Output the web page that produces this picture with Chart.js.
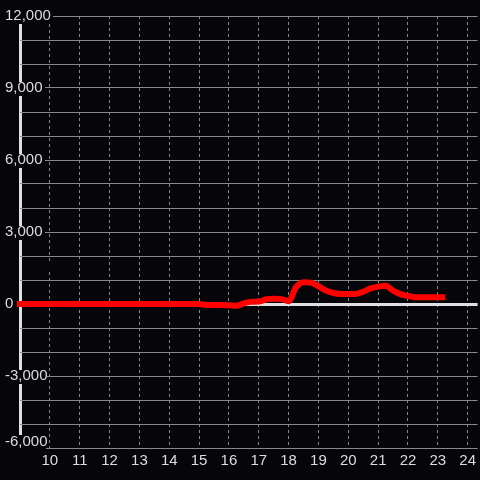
<!DOCTYPE html>
<html>
<head>
<meta charset="utf-8">
<script src="https://cdn.jsdelivr.net/npm/chart.js@4/dist/chart.umd.min.js"></script>
<style>
  html, body { margin: 0; padding: 0; background: #060509; }
  #wrap { width: 480px; height: 480px; }
</style>
</head>
<body>
<div id="wrap"><canvas id="c" width="480" height="480"></canvas></div>
<script>
// ---- data ----
const hours = [8.5, 9, 10, 11, 12, 13, 14, 15, 15.25, 15.5, 15.75, 16, 16.25, 16.5, 16.75, 17,
  17.25, 17.5, 17.75, 18, 18.25, 18.5, 18.75, 19, 19.25, 19.5, 19.75, 20, 20.25, 20.5, 20.75,
  21, 21.25, 21.5, 21.75, 22, 22.25, 22.5, 22.75, 23, 23.25];
const values = [0, 0, 0, 0, 0, 0, 0, 0, -40, -45, -45, -50, -75, 30, 95, 100,
  195, 215, 210, 115, 700, 910, 890, 740, 560, 460, 420, 415, 420, 510, 650,
  725, 760, 560, 410, 333, 285, 278, 278, 278, 278];
const xTickValues = [9, 10, 11, 12, 13, 14, 15, 16, 17, 18, 19, 20, 21, 22, 23, 24];
const yTickValues = [12000, 11000, 10000, 9000, 8000, 7000, 6000, 5000, 4000, 3000, 2000, 1000,
  0, -1000, -2000, -3000, -4000, -5000, -6000];
const yLabelValues = [12000, 9000, 6000, 3000, 0, -3000, -6000];

// ---- styling ----
const FONT = '"Liberation Sans", Arial, sans-serif';
const GRID = '#888888';
const AXIS = '#e0e0e0';
// the y axis line (drawn as the x = 9 grid line) leaves gaps behind the y labels
const AXIS_DASH = [0, 8, 58, 14, 58, 14, 58, 14, 130, 14, 51, 20];
// where each labelled horizontal grid line starts (gap behind its label)
const LABEL_GAP = { 12000: 33, 9000: 25, 6000: 25, 3000: 25, '-3000': 27, '-6000': 26 };
// x = 10 dashed line hidden behind the "12,000" label
const DASH_X10 = [0, 8].concat(Array(80).fill(3));

const fmt = v => Number(v).toLocaleString('en-US');
const isLabeled = v => yLabelValues.includes(v);
const tv = ctx => (ctx.tick ? ctx.tick.value : null);

const points = hours.map((h, i) => ({ x: h, y: values[i] }));

new Chart(document.getElementById('c'), {
  type: 'line',
  data: {
    datasets: [{
      data: points,
      borderColor: '#ff0000',
      borderWidth: 6,
      pointRadius: 0,
      fill: false,
      clip: { left: 3, right: 3, top: 3, bottom: 3 },
      cubicInterpolationMode: 'monotone',
      borderJoinStyle: 'round'
    }]
  },
  options: {
    responsive: false,
    devicePixelRatio: 1,
    animation: false,
    layout: { padding: { left: 4, top: 16, right: 0, bottom: 12 } },
    plugins: { legend: { display: false }, tooltip: { enabled: false } },
    scales: {
      x: {
        type: 'linear',
        position: 'bottom',
        min: 9,
        max: 24.3333,
        afterBuildTicks: s => { s.ticks = xTickValues.map(v => ({ value: v })); },
        afterFit: s => { s.height = 20; },
        grid: {
          drawTicks: false,
          color: ctx => (tv(ctx) === 9 ? AXIS : GRID),
          lineWidth: ctx => (tv(ctx) === 9 ? 3 : 1)
        },
        border: {
          display: false,
          dash: ctx => (tv(ctx) === 9 ? AXIS_DASH : tv(ctx) === 10 ? DASH_X10 : [3, 3])
        },
        ticks: {
          autoSkip: false,
          maxTicksLimit: 1000,
          maxRotation: 0,
          padding: 4,
          color: '#dddddd',
          font: { family: FONT, size: 15 },
          callback: v => (v === 9 ? '' : String(v)),
          z: 1
        }
      },
      y: {
        type: 'linear',
        position: 'left',
        min: -6000,
        max: 12000,
        afterBuildTicks: s => { s.ticks = yTickValues.map(v => ({ value: v })); },
        afterFit: s => { s.width = 16; },
        grid: {
          drawTicks: false,
          color: ctx => (tv(ctx) === 0 ? AXIS : GRID),
          lineWidth: ctx => (tv(ctx) === 0 ? 3 : 1)
        },
        border: {
          display: false,
          dash: ctx => {
            const g = LABEL_GAP[String(tv(ctx))];
            return g ? [0, g, 2000] : [];
          }
        },
        ticks: {
          autoSkip: false,
          maxTicksLimit: 1000,
          mirror: true,
          crossAlign: 'near',
          padding: -15,
          color: '#dddddd',
          font: ctx => (tv(ctx) === -6000
            ? { family: FONT, size: 15, lineHeight: '12px' }
            : { family: FONT, size: 15, lineHeight: 1 }),
          callback: v => {
            if (!isLabeled(v)) return '';
            return v === -6000 ? [fmt(v), ''] : fmt(v);
          }
        }
      }
    }
  }
});
</script>
</body>
</html>
